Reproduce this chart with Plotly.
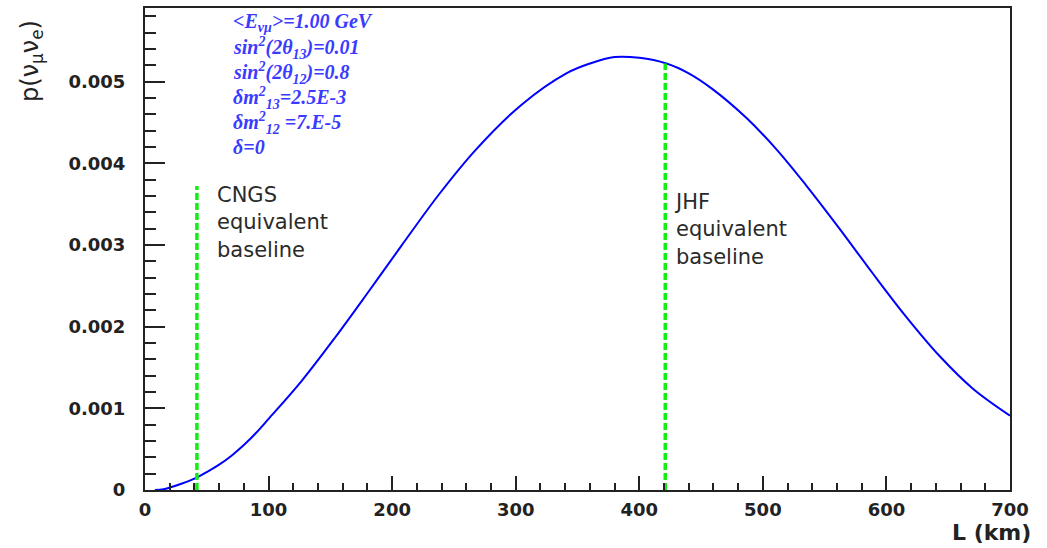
import plotly.graph_objects as go

# Data
L_km = [8, 15, 20, 30, 40, 50, 60, 70, 80, 90, 100, 127, 154, 181, 208, 238, 268, 305,
        341, 360, 380, 400, 422, 440, 459, 487, 511, 535, 562, 589, 616, 643, 670, 700]
prob = [0.0, 0.00001, 0.00003, 0.00008, 0.00014, 0.00022, 0.00031, 0.00042, 0.00055,
        0.00070, 0.00087, 0.00134, 0.00187, 0.00243, 0.00300, 0.00362, 0.00417, 0.00472,
        0.00510, 0.00522, 0.00530, 0.00529, 0.00522, 0.00510, 0.00491, 0.00455, 0.00417,
        0.00373, 0.00320, 0.00265, 0.00212, 0.00164, 0.00124, 0.00091]

cngs_L = [42, 42]
cngs_p = [0.0, 0.00372]
jhf_L = [421, 421]
jhf_p = [0.0, 0.00522]

y_tickvals = [0, 0.001, 0.002, 0.003, 0.004, 0.005]
y_ticktext = ["0", "0.001", "0.002", "0.003", "0.004", "0.005"]
x_tickvals = [0, 100, 200, 300, 400, 500, 600, 700]
x_ticktext = ["0", "100", "200", "300", "400", "500", "600", "700"]

param_lines = [
    "&lt;E<sub>νμ</sub>&gt;=1.00 GeV",
    "sin<sup>2</sup>(2θ<sub>13</sub>)=0.01",
    "sin<sup>2</sup>(2θ<sub>12</sub>)=0.8",
    "δm<sup>2</sup><sub>13</sub>=2.5E-3",
    "δm<sup>2</sup><sub>12</sub> =7.E-5",
    "δ=0",
]

fig = go.Figure()
fig.add_trace(go.Scatter(x=L_km, y=prob, mode="lines",
                         line=dict(color="#0000ff", width=2, shape="spline", smoothing=1.0),
                         showlegend=False, hoverinfo="skip"))
fig.add_trace(go.Scatter(x=cngs_L, y=cngs_p, mode="lines",
                         line=dict(color="#11ee11", width=3.5, dash="7px,3px"),
                         showlegend=False))
fig.add_trace(go.Scatter(x=jhf_L, y=jhf_p, mode="lines",
                         line=dict(color="#11ee11", width=3.5, dash="7px,3px"),
                         showlegend=False))

tick_font = dict(family="DejaVu Sans", size=18, color="#222222", weight="bold")

fig.update_layout(
    width=1047, height=548,
    margin=dict(l=145, r=37, t=6, b=58),
    paper_bgcolor="white", plot_bgcolor="white",
    xaxis=dict(range=[0, 700], tickvals=x_tickvals, ticktext=x_ticktext,
               ticks="inside", ticklen=14, tickwidth=2, tickcolor="#222",
               showgrid=False, zeroline=False, showline=True, linewidth=2,
               linecolor="#222", mirror=True, tickfont=tick_font,
               ticklabelstandoff=2,
               minor=dict(dtick=20, ticks="inside", ticklen=7, tickwidth=2,
                          tickcolor="#222", showgrid=False)),
    yaxis=dict(range=[0, 0.0059], tickvals=y_tickvals, ticktext=y_ticktext,
               ticks="inside", ticklen=20, tickwidth=2, tickcolor="#222",
               showgrid=False, zeroline=False, showline=True, linewidth=2,
               linecolor="#222", mirror=True, tickfont=tick_font,
               ticklabelstandoff=14,
               minor=dict(dtick=0.0002, ticks="inside", ticklen=11, tickwidth=2,
                          tickcolor="#222", showgrid=False)),
)

annotations = []
y0 = 21
for i, t in enumerate(param_lines):
    annotations.append(dict(
        text="<b><i>" + t + "</i></b>", xref="paper", yref="paper",
        x=(231 - 145) / 865, y=1 - (y0 + i * 25 - 6) / 484,
        xanchor="left", yanchor="middle", showarrow=False,
        font=dict(family="Liberation Serif", size=20, color="#3b3bff")))

label_font = dict(family="DejaVu Sans", size=21, color="#2a2a2a")
annotations.append(dict(text="CNGS<br>equivalent<br>baseline", x=cngs_L[0], y=0.00372,
                        xref="x", yref="y", xanchor="left", yanchor="top", align="left",
                        xshift=18, yshift=5, showarrow=False, font=label_font))
annotations.append(dict(text="JHF<br>equivalent<br>baseline", x=jhf_L[0], y=0.00362,
                        xref="x", yref="y", xanchor="left", yanchor="top", align="left",
                        xshift=7, yshift=6, showarrow=False, font=label_font))
annotations.append(dict(text="p(ν<sub>μ</sub>ν<sub>e</sub>)", xref="paper", yref="paper",
                        x=-(145 - 32) / 865, y=1 - (16 - 6) / 484, xanchor="center",
                        yanchor="top", textangle=-90, showarrow=False,
                        font=dict(family="DejaVu Sans", size=24, color="#222")))
annotations.append(dict(text="<b>L (km)</b>", xref="paper", yref="paper",
                        x=(1033 - 145) / 865, y=-(533 - 490) / 484, xanchor="right",
                        yanchor="middle", showarrow=False,
                        font=dict(family="DejaVu Sans", size=22, color="#222")))
fig.update_layout(annotations=annotations)

fig.write_html("out.html", config={"displayModeBar": False},
               post_script="document.body.style.margin='0';document.body.style.padding='0';")
